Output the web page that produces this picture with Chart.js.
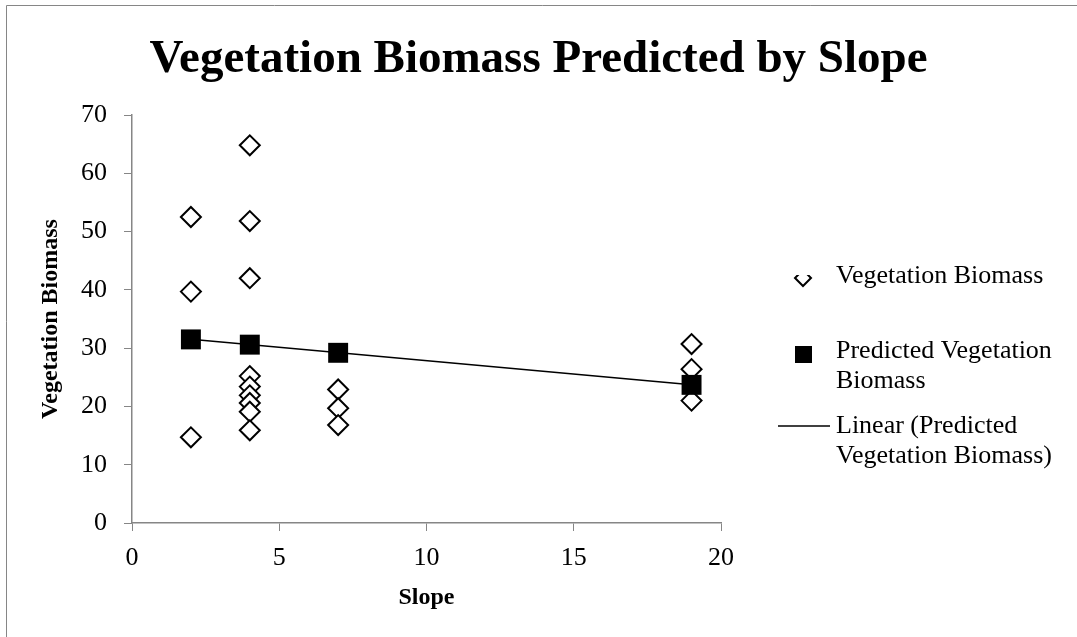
<!DOCTYPE html>
<html>
<head>
<meta charset="utf-8">
<title>Vegetation Biomass Predicted by Slope</title>
<script src="https://cdn.jsdelivr.net/npm/chart.js@4.4.1/dist/chart.umd.min.js"></script>
<style>
  html, body { margin: 0; padding: 0; background: #fff; }
  #wrap { width: 1077px; height: 637px; }
</style>
</head>
<body>
<div id="wrap"><canvas id="biomassChart" width="1077" height="637"></canvas></div>
<script>
// observed points (slope, biomass)
const slopeObs = [2, 2, 2, 4, 4, 4, 4, 4, 4, 4, 4, 4, 7, 7, 7, 19, 19, 19];
const biomassObs = [52.5, 39.7, 14.7, 64.8, 51.8, 42.0, 25.2, 23.4, 21.9, 20.6, 19.1, 15.9, 22.9, 19.7, 16.8, 30.7, 26.4, 21.0];

// predicted values per slope
const slopePred = [2, 4, 7, 19];
const biomassPred = [31.5, 30.6, 29.2, 23.7];

const yTicks = [0, 10, 20, 30, 40, 50, 60, 70];
const xTicks = [0, 5, 10, 15, 20];

const chartTitle = "Vegetation Biomass Predicted by Slope";
const legendLabels = [
  ["Vegetation Biomass"],
  ["Predicted Vegetation", "Biomass"],
  ["Linear (Predicted", "Vegetation Biomass)"],
];

const serif = "'Liberation Serif', 'Times New Roman', serif";
const axisGray = "#868686";

// least squares line through the predicted points
function linearFit(xs, ys) {
  const n = xs.length;
  const mx = xs.reduce((a, b) => a + b, 0) / n;
  const my = ys.reduce((a, b) => a + b, 0) / n;
  let sxy = 0, sxx = 0;
  for (let i = 0; i < n; i++) {
    sxy += (xs[i] - mx) * (ys[i] - my);
    sxx += (xs[i] - mx) * (xs[i] - mx);
  }
  const b = sxy / sxx;
  return { a: my - b * mx, b };
}
const fit = linearFit(slopePred, biomassPred);
const xMin = Math.min(...slopePred), xMax = Math.max(...slopePred);
const trendPts = [xMin, xMax].map((x) => ({ x, y: fit.a + fit.b * x }));

// Plugin → frame, title centred on the whole canvas, legend with wrapped text
const frameLegend = {
  id: "frameLegend",
  afterDraw(chart) {
    const { ctx, width } = chart;
    ctx.save();

    ctx.strokeStyle = axisGray;
    ctx.lineWidth = 1;
    ctx.beginPath();
    ctx.moveTo(6.5, 700);
    ctx.lineTo(6.5, 5.5);
    ctx.lineTo(1200, 5.5);
    ctx.stroke();

    ctx.fillStyle = "#000";
    ctx.font = "bold 47px " + serif;
    ctx.textAlign = "center";
    ctx.textBaseline = "alphabetic";
    ctx.fillText(chartTitle, width / 2, 71.5);

    ctx.font = "26px " + serif;
    ctx.textAlign = "left";
    ctx.textBaseline = "middle";
    const textX = 836;
    const rows = [276, 351, 426];
    const lineGap = 30;

    legendLabels.forEach((lines, i) => {
      lines.forEach((t, j) => ctx.fillText(t, textX, rows[i] + j * lineGap));
    });

    // open diamond (partly clipped, like the original)
    ctx.save();
    ctx.beginPath();
    ctx.rect(790, 275, 30, 20);
    ctx.clip();
    ctx.beginPath();
    ctx.moveTo(795, 278);
    ctx.lineTo(803, 286);
    ctx.lineTo(811, 278);
    ctx.lineTo(803, 270);
    ctx.closePath();
    ctx.lineWidth = 2;
    ctx.strokeStyle = "#000";
    ctx.stroke();
    ctx.restore();

    // filled square
    ctx.fillRect(795, 346, 17, 17);

    // line
    ctx.beginPath();
    ctx.moveTo(778, 426);
    ctx.lineTo(830, 426);
    ctx.lineWidth = 1.5;
    ctx.strokeStyle = "#000";
    ctx.stroke();

    ctx.restore();
  },
};

new Chart(document.getElementById("biomassChart"), {
  type: "scatter",
  plugins: [frameLegend],
  data: {
    datasets: [
      {
        label: "Predicted Vegetation Biomass",
        data: slopePred.map((x, i) => ({ x, y: biomassPred[i] })),
        pointStyle: "rect",
        pointRadius: 14.1,
        pointHoverRadius: 14.1,
        backgroundColor: "#000",
        borderColor: "#000",
        borderWidth: 0,
        order: 0,
      },
      {
        type: "line",
        label: "Linear (Predicted Vegetation Biomass)",
        data: trendPts,
        borderColor: "#000",
        borderWidth: 1.5,
        pointRadius: 0,
        fill: false,
        order: 1,
      },
      {
        label: "Vegetation Biomass",
        data: slopeObs.map((x, i) => ({ x, y: biomassObs[i] })),
        pointStyle: "rectRot",
        pointRadius: 10,
        pointHoverRadius: 10,
        backgroundColor: "#fff",
        borderColor: "#000",
        borderWidth: 2,
        order: 2,
      },
    ],
  },
  options: {
    responsive: false,
    animation: false,
    layout: { padding: { left: 0, right: 356, top: 115, bottom: 0 } },
    plugins: {
      legend: { display: false },
      tooltip: { enabled: false },
      title: { display: false },
    },
    scales: {
      x: {
        type: "linear",
        min: 0,
        max: 20,
        afterFit: (s) => { s.height = 114; },
        afterBuildTicks: (s) => { s.ticks = xTicks.map((v) => ({ value: v })); },
        ticks: { color: "#000", padding: 12, font: { size: 26, family: serif } },
        grid: { drawOnChartArea: false, drawTicks: true, tickLength: 8, color: axisGray },
        border: { display: true, color: axisGray, width: 1.5 },
        title: {
          display: true,
          text: "Slope",
          color: "#000",
          font: { size: 24, weight: "bold", family: serif },
          padding: { top: 0, bottom: 25 },
        },
      },
      y: {
        type: "linear",
        min: 0,
        max: 70,
        afterFit: (s) => { s.width = 132; },
        afterBuildTicks: (s) => { s.ticks = yTicks.map((v) => ({ value: v })); },
        ticks: { color: "#000", padding: 17, font: { size: 26, family: serif } },
        grid: { drawOnChartArea: false, drawTicks: true, tickLength: 8, color: axisGray },
        border: { display: true, color: axisGray, width: 1.5 },
        title: {
          display: true,
          text: "Vegetation Biomass",
          color: "#000",
          font: { size: 24, weight: "bold", family: serif },
          padding: { top: 36, bottom: 0 },
        },
      },
    },
  },
});
</script>
</body>
</html>
